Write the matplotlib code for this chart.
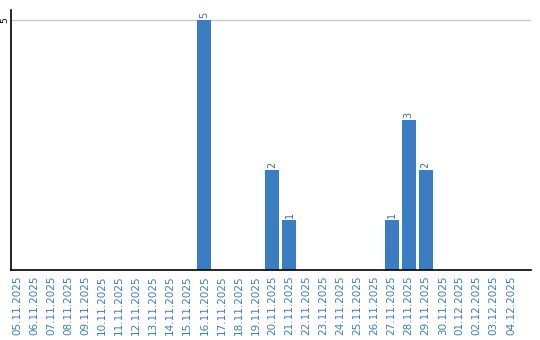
import matplotlib
matplotlib.use("Agg")
import matplotlib.pyplot as plt
import pandas as pd

dates = [d.strftime("%d.%m.%Y") for d in pd.date_range("2025-11-05", "2025-12-04")]
counts_by_date = {"16.11.2025": 5, "20.11.2025": 2, "21.11.2025": 1,
                  "27.11.2025": 1, "28.11.2025": 3, "29.11.2025": 2}
values = [counts_by_date.get(d, 0) for d in dates]

fig = plt.figure(figsize=(5.4, 3.4), dpi=100)
ax = fig.add_axes([11/540, 70/340, 520/540, 260/340])
x = list(range(len(dates)))
bar_color = "#3b7dc2"
ax.bar(x, values, width=0.82, color=bar_color, zorder=2)
for xi, v in zip(x, values):
    if v > 0:
        ax.text(xi, v + 0.04, str(v), rotation=90, ha="center", va="bottom",
                fontsize=7, color="#3b6e9e", zorder=3)
ax.set_xlim(-0.35, 30.18)
ax.set_ylim(0, 5.2)
ax.set_yticks([5])
ax.set_yticklabels(["5"], rotation=90, va="center", fontsize=6.5)
ax.yaxis.grid(True, color="#c8c8c8", linewidth=1, zorder=0)
ax.set_xticks(x)
ax.set_xticklabels(dates, rotation=90, fontsize=7.5, color="#3b7dc2")
ax.tick_params(axis="x", length=0, pad=4)
ax.tick_params(axis="y", length=0, pad=1)
for s in ["top", "right"]:
    ax.spines[s].set_visible(False)
ax.spines["left"].set_color("black")
ax.spines["bottom"].set_color("black")
ax.spines["left"].set_linewidth(1.2)
ax.spines["bottom"].set_linewidth(1.2)
fig.savefig("out.png", dpi=100)
